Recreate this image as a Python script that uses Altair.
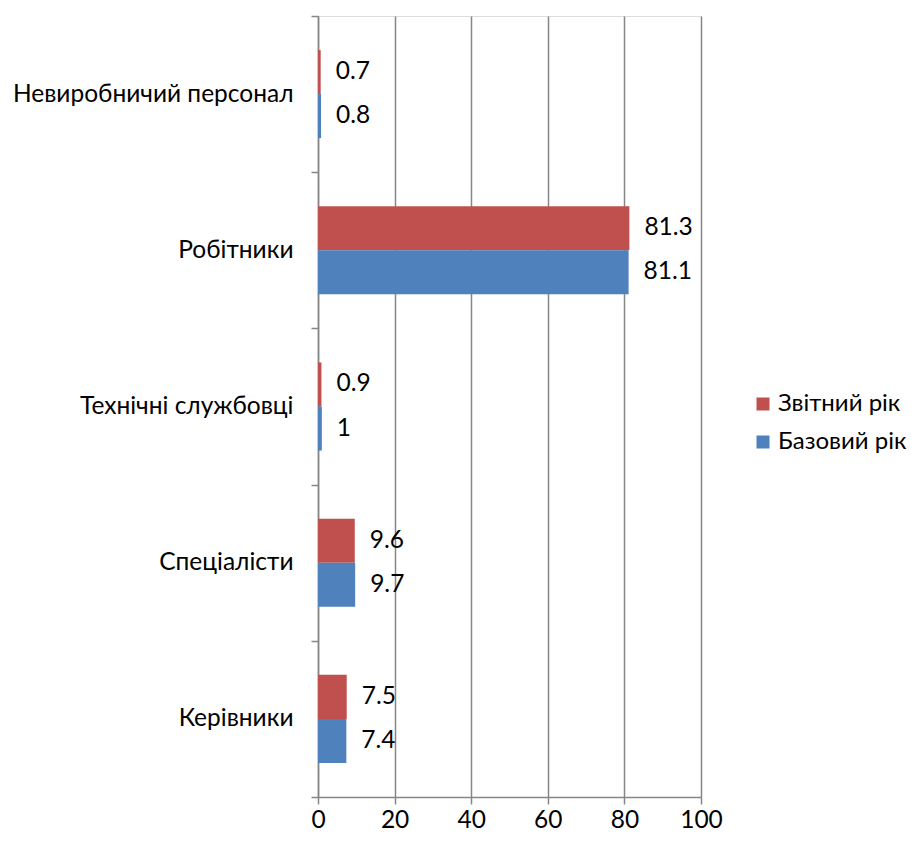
import altair as alt
import pandas as pd

categories = ["Невиробничий персонал", "Робітники", "Технічні службовці", "Спеціалісти", "Керівники"]
series = ["Звітний рік", "Базовий рік"]
report_year = [0.7, 81.3, 0.9, 9.6, 7.5]
base_year = [0.8, 81.1, 1, 9.7, 7.4]
x_ticks = [0, 20, 40, 60, 80, 100]
colors = ["#C0504D", "#4F81BD"]

rows = []
for c, r, b in zip(categories, report_year, base_year):
    rows.append({"cat": c, "series": series[0], "value": r, "label": f"{r:g}"})
    rows.append({"cat": c, "series": series[1], "value": b, "label": f"{b:g}"})
df = pd.DataFrame(rows)

FONT = "Lato"
FS = 24.5

y_enc = alt.Y("cat:N", sort=categories, title=None,
              scale=alt.Scale(paddingInner=0, paddingOuter=0),
              axis=alt.Axis(tickBand="extent", labelFontSize=FS, labelFont=FONT,
                            labelFontWeight="normal",
                            labelColor="#000000", labelPadding=18, tickSize=7,
                            tickColor="#868686", domainColor="#868686",
                            tickWidth=1.5, domainWidth=1.5, grid=False, labelLimit=400))
yoff = alt.YOffset("series:N", sort=series,
                   scale=alt.Scale(paddingInner=0, paddingOuter=0.773))
x_enc = alt.X("value:Q", title=None,
              scale=alt.Scale(domain=[0, 100], nice=False),
              axis=alt.Axis(values=x_ticks, labelFontSize=FS, labelFont=FONT,
                            labelColor="#000000", labelPadding=23, tickSize=7,
                            labelBaseline="alphabetic",
                            labelFlush=False, labelOverlap=False,
                            tickColor="#868686", domainColor="#868686",
                            tickWidth=1.5, domainWidth=1.5, grid=True,
                            gridColor="#868686", gridWidth=1.5))

bars = alt.Chart(df).mark_bar().encode(
    y=y_enc, yOffset=yoff, x=x_enc,
    color=alt.Color("series:N", sort=series,
                    scale=alt.Scale(domain=series, range=colors),
                    legend=alt.Legend(title=None, orient="none", legendX=433, legendY=376,
                                      symbolType="square", symbolSize=169,
                                      symbolStrokeWidth=0, labelFontSize=24,
                                      labelFont=FONT, labelColor="#000000",
                                      rowPadding=14, labelOffset=3, labelLimit=300)),
)

labels = alt.Chart(df).mark_text(align="left", baseline="middle", dx=15,
                                 fontSize=FS, font=FONT, color="#000000").encode(
    y=alt.Y("cat:N", sort=categories), yOffset=yoff, x="value:Q", text="label:N"
)

chart = alt.layer(bars, labels).properties(
    width=383, height=781,
    padding={"left": 310, "top": 8, "right": 210, "bottom": 36},
    autosize=alt.AutoSizeParams(type="none"),
).configure_view(stroke=None).configure(background="#FFFFFF")

chart.save("out.html", embed_options={"renderer": "svg", "actions": False})
